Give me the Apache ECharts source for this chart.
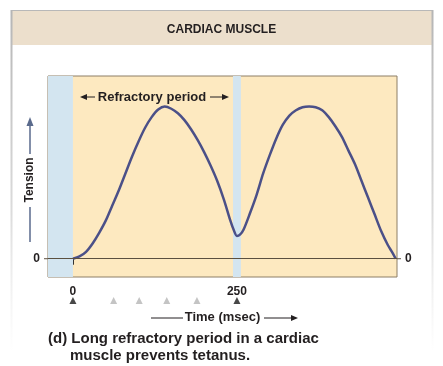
<!DOCTYPE html>
<html><head><meta charset="utf-8">
<script src="https://cdn.jsdelivr.net/npm/echarts@6/dist/echarts.min.js"></script>
<style>html,body{margin:0;background:#fff}#c{width:443px;height:366px}</style>
</head><body><div id="c"></div>
<script>
// ---- data ----
const timeMs   = [0, 10, 20, 30, 40, 50, 60, 70, 80, 90, 100, 110, 120, 130, 140, 150, 160, 170, 180, 190, 200, 210, 220, 230, 240, 245, 250, 255, 260, 270, 280, 290, 300, 310, 320, 330, 340, 350, 360, 370, 380, 390, 400, 410, 420, 430, 440, 450, 460, 470, 480, 487, 492];
const tension  = [0, 1.5, 4.5, 10, 17, 25, 35, 45, 56, 67, 77, 86, 93, 98, 100, 98.5, 95.5, 91, 85, 78, 70, 61, 51, 39, 25, 19, 15, 16, 19, 30, 42, 56, 68, 79, 88, 94, 97.5, 99.5, 100, 99.5, 97.5, 93, 87, 80, 71, 62, 51, 40, 29, 18, 9, 4, 0];
const xTickValues = [0, 250];
const stimulusTimes = [0, 62, 101, 143, 189, 250];
const stimulusKind  = ['main', 'minor', 'minor', 'minor', 'minor', 'main'];
const refractoryWindows = [[-38, 0], [244, 256]];
const stimulusLevel = -27.5;

const FONT = '"Liberation Sans", Arial, sans-serif';
const chart = echarts.init(document.getElementById('c'), null, {renderer: 'canvas'});

const curve = timeMs.map((t, i) => [t, tension[i]]);
const stim = stimulusTimes.map((t, i) => ({
  value: [t, stimulusLevel],
  itemStyle: {color: stimulusKind[i] === 'main' ? '#1a1a1a' : '#b5b5b5'}
}));

chart.setOption({
  backgroundColor: '#ffffff',
  animation: false,
  title: [
    {text: 'CARDIAC MUSCLE', left: 'center', top: 19,
     textStyle: {fontFamily: FONT, fontSize: 12, fontWeight: 'bold', color: '#231f20'}},
    {text: '(d) Long refractory period in a cardiac', left: 43, top: 326,
     textStyle: {fontFamily: FONT, fontSize: 15, fontWeight: 'bold', color: '#231f20'}},
    {text: 'muscle prevents tetanus.', left: 65, top: 343,
     textStyle: {fontFamily: FONT, fontSize: 15, fontWeight: 'bold', color: '#231f20'}}
  ],
  grid: {left: 48, right: 46, top: 76, bottom: 89, show: true,
         backgroundColor: '#fde9c0', borderColor: '#8d7f66', borderWidth: 1},
  xAxis: {
    type: 'value', min: -38, max: 494,
    axisLine: {show: false}, splitLine: {show: false},
    axisTick: {show: true, customValues: xTickValues, length: 6, lineStyle: {color: '#333'}},
    axisLabel: {customValues: xTickValues, margin: 9, fontFamily: FONT, fontSize: 12,
                fontWeight: 'bold', color: '#231f20'},
    name: 'Time (msec)', nameLocation: 'middle', nameGap: 34,
    nameTextStyle: {fontFamily: FONT, fontSize: 13, fontWeight: 'bold', color: '#231f20'}
  },
  yAxis: [
    {type: 'value', min: -12, max: 120,
     axisLine: {show: false}, axisTick: {show: false}, splitLine: {show: false},
     axisLabel: {customValues: [0], margin: 8, fontFamily: FONT, fontSize: 12,
                 fontWeight: 'bold', color: '#231f20'}},
    {type: 'value', min: -12, max: 120, position: 'right',
     axisLine: {show: false}, axisTick: {show: false}, splitLine: {show: false},
     axisLabel: {customValues: [0], margin: 8, fontFamily: FONT, fontSize: 12,
                 fontWeight: 'bold', color: '#231f20'}}
  ],
  series: [
    {type: 'line', data: curve, smooth: 0.3, showSymbol: false,
     lineStyle: {color: '#4b5088', width: 2.5},
     markArea: {silent: true, itemStyle: {color: '#d3e5f0'},
                data: refractoryWindows.map(w => [{xAxis: w[0], yAxis: -12}, {xAxis: w[1], yAxis: 120}])},
     markLine: {silent: true, symbol: 'none', label: {show: false},
                lineStyle: {color: '#5b5040', width: 1, type: 'solid'},
                data: [{yAxis: 0}]},
     z: 3},
    {type: 'scatter', data: stim, symbol: 'triangle', symbolSize: [7, 7], clip: false, z: 4}
  ]
});

// annotations
const y0 = chart.convertToPixel({yAxisIndex: 0}, 0);
const arrowHead = (x, y, dir) => ({type: 'polygon', shape: {points:
  dir === 'right' ? [[x, y], [x - 7, y - 3], [x - 7, y + 3]] :
  [[x, y], [x + 7, y - 3], [x + 7, y + 3]]}, style: {fill: '#231f20'}});
const lineEl = (x1, y1, x2, y2, c) => ({type: 'line', shape: {x1, y1, x2, y2},
  style: {stroke: c || '#231f20', lineWidth: 1}});
const fade = () => new echarts.graphic.LinearGradient(0, 0, 0, 1, [
  {offset: 0, color: '#b5b5b5'}, {offset: 0.6, color: '#dcdcdc'}, {offset: 1, color: 'rgba(230,230,230,0)'}]);

chart.setOption({graphic: [
  // frame
  {type: 'rect', shape: {x: 12, y: 11, width: 420, height: 34}, style: {fill: '#ecdfcc'}, z: -10},
  lineEl(11, 10.5, 433, 10.5, '#b8b8b8'),
  {type: 'line', shape: {x1: 11.5, y1: 10, x2: 11.5, y2: 350}, style: {lineWidth: 2, stroke: fade()}},
  {type: 'line', shape: {x1: 432.5, y1: 10, x2: 432.5, y2: 350}, style: {lineWidth: 2, stroke: fade()}},
  // baseline extension
  lineEl(44, y0, 48, y0, '#5b5040'),
  lineEl(397, y0, 401, y0, '#5b5040'),
  // refractory period label
  {type: 'text', x: 152, y: 97, style: {text: 'Refractory period', fontFamily: FONT, fontSize: 13,
    fontWeight: 'bold', fill: '#231f20', align: 'center', verticalAlign: 'middle'}, z: 10},
  lineEl(84, 97, 95, 97), arrowHead(80, 97, 'left'),
  lineEl(210, 97, 224, 97), arrowHead(229, 97, 'right'),
  // tension label and arrow
  {type: 'text', x: 30, y: 180, rotation: Math.PI / 2,
   style: {text: 'Tension', fontFamily: FONT, fontSize: 12, fontWeight: 'bold', fill: '#231f20',
           align: 'center', verticalAlign: 'middle'}},
  {type: 'line', shape: {x1: 30, y1: 242, x2: 30, y2: 207}, style: {stroke: '#5a6a8c', lineWidth: 1.5}},
  {type: 'line', shape: {x1: 30, y1: 154, x2: 30, y2: 124}, style: {stroke: '#5a6a8c', lineWidth: 1.5}},
  {type: 'polygon', shape: {points: [[30, 117], [26.5, 126], [33.5, 126]]}, style: {fill: '#5a6a8c'}},
  // time arrow
  lineEl(151, 318, 183, 318), lineEl(264, 318, 292, 318), arrowHead(298, 318, 'right')
]});
</script>
</body></html>
